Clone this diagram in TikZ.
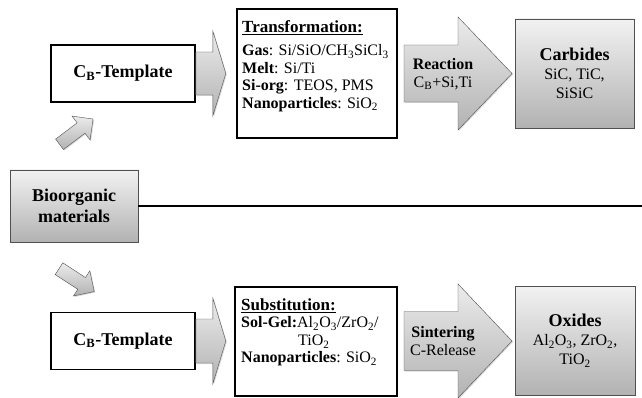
\documentclass[tikz,border=0pt]{standalone}
\usepackage{fontspec}
\setmainfont{Liberation Serif}
\usetikzlibrary{positioning,calc,shadows}
\definecolor{CerEdge}{RGB}{80,80,80}
\definecolor{CerTop}{RGB}{242,242,242}
\definecolor{CerBottom}{RGB}{178,178,178}
\tikzset{
  cer/template/.style={
    draw=black,
    line width=1.6pt,
    fill=white,
    minimum width=144pt,
    minimum height=57pt,
    font=\fontsize{18}{20}\selectfont\bfseries
  },
  cer/list/.style={
    draw=black,
    line width=2pt,
    fill=white,
    minimum width=160pt,
    inner sep=0pt
  },
  cer/listtext/.style={
    align=left,
    inner sep=0pt,
    anchor=north west,
    font=\fontsize{16}{17.5}\selectfont
  },
  cer/product/.style={
    draw=CerEdge,
    thin,
    top color=CerTop,
    bottom color=CerBottom,
    drop shadow={shadow xshift=1.2pt,shadow yshift=-1.2pt,opacity=0.35},
    align=center,
    font=\fontsize{16}{19}\selectfont
  },
  cer/blockarrow/.style={
    draw=CerEdge,
    thin,
    top color=CerTop!90!CerBottom,
    bottom color=CerBottom,
    drop shadow={shadow xshift=1pt,shadow yshift=-1pt,opacity=0.3}
  },
  cer/arrowtext/.style={align=center, font=\fontsize{16}{18}\selectfont},
  cer/link/.style={line width=1.5pt, draw=black}
}
% tail, angle, length, shaft half width, head half width, head length
\newcommand{\blockarrow}[6]{%
  \draw[cer/blockarrow, shift={#1}, rotate=#2]
    (0,-#4) -- ({#3-#6},-#4) -- ({#3-#6},-#5) -- (#3,0)
    -- ({#3-#6},#5) -- ({#3-#6},#4) -- (0,#4) -- cycle;}

\begin{document}
\begin{tikzpicture}[x=1pt,y=-1pt]
  \useasboundingbox (0,0) rectangle (642,398);

  % source and the dividing line
  \node[cer/product, minimum width=128pt, minimum height=72pt,
        font=\fontsize{18}{21}\selectfont\bfseries] (bio) at (74,206) {Bioorganic\\materials};
  \coordinate (rightEdge) at (642,206);
  \draw[cer/link] (bio.east) -- (rightEdge);

  % upper route: carbides
  \node[cer/template] (tplA) at (123,73.5) {C\textsubscript{B}-Template};
  \node[cer/list, minimum height=129pt] (trA) at (317,73.5) {};
  \node[cer/listtext] (trAtxt) at ($(trA.north west)+(6,12)$)
    {{\fontsize{17}{19}\selectfont\bfseries\underline{Transformation:}}\\[6pt]
     \textbf{Gas}: Si/SiO/CH\textsubscript{3}SiCl\textsubscript{3}\\
     \textbf{Melt}: Si/Ti\\
     \textbf{Si-org}: TEOS, PMS\\
     \textbf{Nanoparticles}: SiO\textsubscript{2}};
  \node[cer/product, minimum width=119pt, minimum height=109pt] (carb) at (574.5,73.5)
    {{\fontsize{18}{21}\selectfont\bfseries Carbides}\\SiC, TiC,\\SiSiC};

  \blockarrow{($(bio.north)+(-14.5,-25.5)$)}{37}{42}{6.5}{15}{15}
  \blockarrow{(tplA.east)}{0}{30}{21.5}{42.5}{13}
  \blockarrow{($(trA.east)+(6,0)$)}{0}{108}{28.5}{56.5}{54}
  \node[cer/arrowtext] (reactTxt) at (443,74) {\textbf{Reaction}\\C\textsubscript{B}+Si,Ti};

  % lower route: oxides
  \node[cer/template] (tplB) at (123,341) {C\textsubscript{B}-Template};
  \node[cer/list, minimum width=162pt, minimum height=109pt] (subB) at (316,341) {};
  \node[cer/listtext] (subBtxt) at ($(subB.north west)+(7,13)$)
    {{\fontsize{17}{19}\selectfont\bfseries\underline{Substitution:}}\\
     \textbf{Sol-Gel:}Al\textsubscript{2}O\textsubscript{3}/ZrO\textsubscript{2}/\\
     \hspace{57pt}TiO\textsubscript{2}\\
     \textbf{Nanoparticles}: SiO\textsubscript{2}};
  \node[cer/product, minimum width=120pt, minimum height=109pt] (oxid) at (575,340.5)
    {{\fontsize{18}{21}\selectfont\bfseries Oxides}\\Al\textsubscript{2}O\textsubscript{3}, ZrO\textsubscript{2},\\TiO\textsubscript{2}};

  \blockarrow{($(bio.south)+(-15,26.5)$)}{-33}{42}{7}{15}{15}
  \blockarrow{(tplB.east)}{0}{30}{22}{43}{13}
  \blockarrow{($(subB.east)+(6,0)$)}{0}{108}{29.5}{57}{54}
  \node[cer/arrowtext] (sinterTxt) at (443,341) {\textbf{Sintering}\\C-Release};
\end{tikzpicture}
\end{document}
